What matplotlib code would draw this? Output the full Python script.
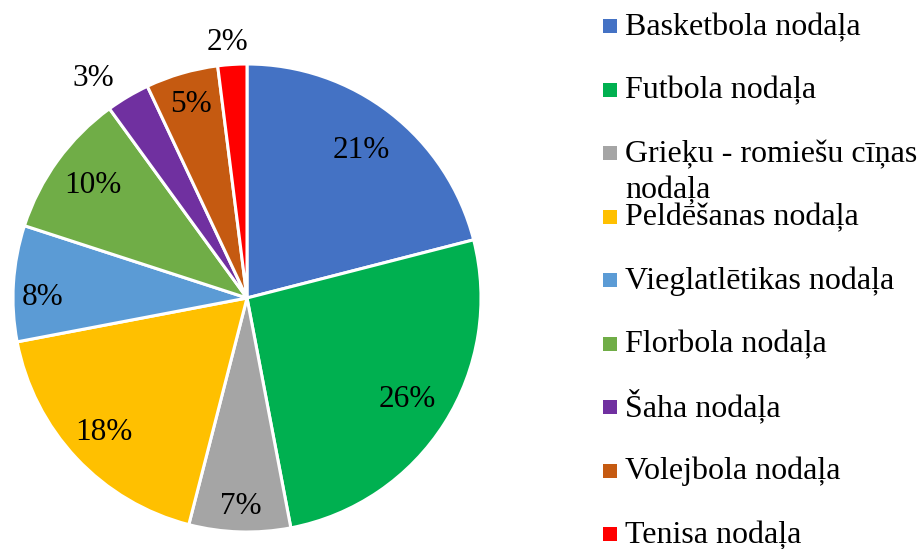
import numpy as np
import matplotlib.pyplot as plt

categories = [
    "Basketbola nodaļa",
    "Futbola nodaļa",
    "Grieķu - romiešu cīņas\nnodaļa",
    "Peldēšanas nodaļa",
    "Vieglatlētikas nodaļa",
    "Florbola nodaļa",
    "Šaha nodaļa",
    "Volejbola nodaļa",
    "Tenisa nodaļa",
]
shares = [21, 26, 7, 18, 8, 10, 3, 5, 2]

colors = ["#4472C4", "#00B050", "#A5A5A5", "#FFC000", "#5B9BD5",
          "#70AD47", "#7030A0", "#C55A11", "#FF0000"]
# percent label placement: radius (fraction of pie radius) and angle nudge (deg)
label_r = [0.80, 0.81, 0.89, 0.84, 0.875, 0.815, 1.145, 0.86, 1.095]
label_nudge = [0, 0, 0, 0, 3.5, 0, 4.5, 0, 0.8]

plt.rcParams["font.family"] = ["Liberation Serif", "DejaVu Serif"]
FS = 23
PCT_FS = 22.5

W, H = 920, 549
fig = plt.figure(figsize=(W / 100, H / 100), dpi=100)

# pie: centre (247, 298) px, radius 234 px
cx, cy, r = 247, 298, 234
ax = fig.add_axes([(cx - r) / W, 1 - (cy + r) / H, 2 * r / W, 2 * r / H])
wedges, _ = ax.pie(shares, colors=colors, startangle=90, counterclock=False,
                   wedgeprops=dict(edgecolor="white", linewidth=2.2))
ax.set_xlim(-1, 1)
ax.set_ylim(-1, 1)
ax.set_aspect("equal")
ax.axis("off")

for w, v, d, dn in zip(wedges, shares, label_r, label_nudge):
    t = np.deg2rad((w.theta1 + w.theta2) / 2 + dn)
    ax.text(d * np.cos(t), d * np.sin(t), f"{v}%", ha="center", va="center",
            fontsize=PCT_FS, color="black")

# legend drawn in pixel space
lax = fig.add_axes([0, 0, 1, 1])
lax.set_xlim(0, W)
lax.set_ylim(H, 0)
lax.axis("off")
lax.patch.set_alpha(0)

base0, step, line_gap = 35, 63.5, 36
for i, (lab, c) in enumerate(zip(categories, colors)):
    yb = base0 + i * step
    lax.scatter([610], [yb - 9], marker="s", s=100, color=c, linewidths=0)
    for j, line in enumerate(lab.split("\n")):
        lax.text(625, yb + j * line_gap, line, ha="left", va="baseline",
                 fontsize=FS, color="black")

fig.savefig("out.png", dpi=100)
